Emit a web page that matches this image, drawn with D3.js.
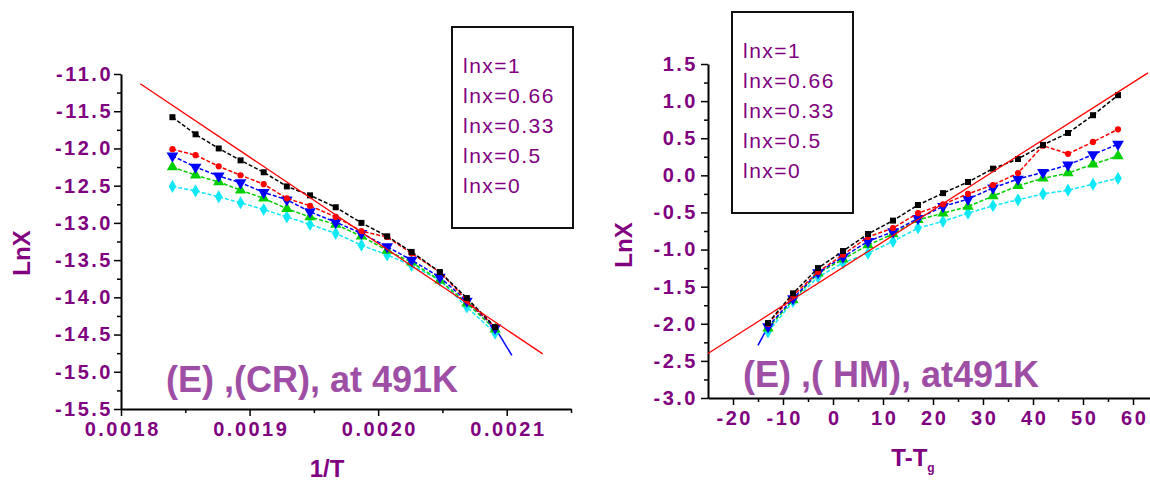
<!DOCTYPE html>
<html>
<head>
<meta charset="utf-8">
<script src="https://cdn.jsdelivr.net/npm/d3@7"></script>
<style>
  body { margin: 0; background: #fff; }
  svg { display: block; font-family: "Liberation Sans", Arial, sans-serif; }
  .tick-label { font-weight: bold; font-size: 20px; fill: #800080; letter-spacing: 2.5px; }
  .axis-title { font-weight: bold; font-size: 24px; fill: #800080; }
  .legend-text { font-size: 21px; fill: #800080; letter-spacing: 1.5px; }
  .note { font-weight: bold; font-size: 36px; fill: #9e4fa5; }
</style>
</head>
<body>
<script>
// ---- left panel: LnX vs 1/T ----
var leftX = [0.00184, 0.001858, 0.001876, 0.001893, 0.001911, 0.001929, 0.001947,
             0.001967, 0.001987, 0.002007, 0.002026, 0.002048, 0.002069, 0.002091];
var leftBlack = [-11.58, -11.81, -12.00, -12.16, -12.32, -12.51, -12.63, -12.79, -13.00, -13.18, -13.39, -13.66, -14.01, -14.40];
var leftRed   = [-12.01, -12.09, -12.24, -12.36, -12.48, -12.67, -12.77, -12.92, -13.11, -13.19, -13.41, -13.66, -14.04, -14.40];
var leftBlue  = [-12.10, -12.25, -12.37, -12.46, -12.59, -12.69, -12.85, -12.99, -13.14, -13.32, -13.50, -13.73, -14.05, -14.41];
var leftGreen = [-12.25, -12.36, -12.45, -12.56, -12.67, -12.81, -12.92, -13.02, -13.18, -13.37, -13.53, -13.77, -14.08, -14.43];
var leftCyan  = [-12.51, -12.57, -12.65, -12.73, -12.82, -12.92, -13.02, -13.14, -13.30, -13.43, -13.57, -13.77, -14.13, -14.48];
var leftFitX = [0.001815, 0.002128];
var leftFitY = [-11.13, -14.76];
var leftTailX = [0.002091, 0.002104];
var leftTailY = [-14.41, -14.78];
var leftXTicks = [0.0018, 0.0019, 0.0020, 0.0021];
var leftYTicks = [-11.0, -11.5, -12.0, -12.5, -13.0, -13.5, -14.0, -14.5, -15.0, -15.5];

// ---- right panel: LnX vs T-Tg ----
var rightX = [-13, -8, -3, 2, 7, 12, 17, 22, 27, 32, 37, 42, 47, 52, 57];
var rightBlack = [-1.99, -1.59, -1.25, -1.02, -0.79, -0.61, -0.40, -0.24, -0.09, 0.09, 0.22, 0.41, 0.57, 0.81, 1.08];
var rightRed   = [-2.00, -1.62, -1.30, -1.07, -0.83, -0.71, -0.51, -0.39, -0.25, -0.13, 0.03, 0.40, 0.29, 0.45, 0.62];
var rightBlue  = [-2.04, -1.66, -1.31, -1.10, -0.89, -0.76, -0.58, -0.42, -0.32, -0.17, -0.05, 0.04, 0.14, 0.28, 0.42];
var rightGreen = [-2.06, -1.68, -1.32, -1.13, -0.94, -0.79, -0.60, -0.51, -0.42, -0.28, -0.14, -0.04, 0.03, 0.15, 0.26];
var rightCyan  = [-2.11, -1.70, -1.37, -1.18, -1.05, -0.89, -0.71, -0.62, -0.51, -0.41, -0.33, -0.25, -0.20, -0.12, -0.04];
var rightFitX = [-25, 63];
var rightFitY = [-2.40, 1.38];
var rightTailX = [-13, -15];
var rightTailY = [-2.04, -2.29];
var rightXTicks = [-20, -10, 0, 10, 20, 30, 40, 50, 60];
var rightYTicks = [1.5, 1.0, 0.5, 0.0, -0.5, -1.0, -1.5, -2.0, -2.5, -3.0];

var legendLabels = ["lnx=1", "lnx=0.66", "lnx=0.33", "lnx=0.5", "lnx=0"];
var seriesColors = ["#000000", "#ff0000", "#0000ff", "#00d000", "#10e8f8"];
var seriesSymbols = [d3.symbolSquare, d3.symbolCircle, d3.symbolTriangle, d3.symbolTriangle, d3.symbolDiamond];
var seriesSizes = [36, 30, 60, 55, 50];
var seriesRotate = [0, 0, 180, 0, 0];

var svg = d3.select("body").append("svg")
    .attr("width", 1150)
    .attr("height", 484);

svg.append("rect").attr("width", 1150).attr("height", 484).attr("fill", "#fff");

function drawPanel(p) {
    var x = d3.scaleLinear().domain(p.xDomain).range(p.xRange);
    var y = d3.scaleLinear().domain(p.yDomain).range(p.yRange);
    var g = svg.append("g");
    var x0 = p.xRange[0], y0 = p.yRange[0];

    // minor ticks
    g.append("g")
        .attr("transform", "translate(0," + y0 + ")")
        .call(d3.axisBottom(x).tickValues(p.xMinor).tickSize(4).tickFormat(""))
        .call(s => s.select(".domain").remove());
    g.append("g")
        .attr("transform", "translate(" + x0 + ",0)")
        .call(d3.axisLeft(y).tickValues(p.yMinor).tickSize(4).tickFormat(""))
        .call(s => s.select(".domain").remove());

    // major x axis
    var xg = g.append("g")
        .attr("transform", "translate(0," + y0 + ")")
        .call(d3.axisBottom(x).tickValues(p.xTicks).tickSize(7).tickSizeOuter(0).tickFormat(p.xFmt));
    xg.selectAll("text").attr("class", "tick-label").attr("y", 13).attr("dy", "0.71em").attr("dx", 1.2).attr("fill", null);

    // major y axis
    var yg = g.append("g")
        .attr("transform", "translate(" + x0 + ",0)")
        .call(d3.axisLeft(y).tickValues(p.yTicks).tickSize(7).tickSizeOuter(0).tickFormat(d => d.toFixed(1)));
    yg.selectAll("text").attr("class", "tick-label").attr("x", p.yLabelX).attr("fill", null);

    g.selectAll(".domain").attr("stroke-width", 2);
    g.selectAll(".tick line").attr("stroke-width", 1.5);

    // axis titles
    g.append("text")
        .attr("class", "axis-title")
        .attr("transform", "translate(" + p.yTitle[0] + "," + p.yTitle[1] + ") rotate(-90)")
        .attr("text-anchor", "middle")
        .attr("dy", "0.35em")
        .text("LnX");
    var xt = g.append("text")
        .attr("class", "axis-title")
        .attr("x", p.xTitle[0]).attr("y", p.xTitle[1])
        .attr("text-anchor", "middle");
    xt.append("tspan").text(p.xTitleText);
    if (p.xTitleSub) xt.append("tspan").attr("font-size", 12).attr("dy", 6).text(p.xTitleSub);

    var line = d3.line().x(d => x(d[0])).y(d => y(d[1]));

    // tail segment below the last marked point
    g.append("path")
        .datum(d3.zip(p.tailX, p.tailY))
        .attr("fill", "none").attr("stroke", "#0000ff").attr("stroke-width", 1.5)
        .attr("d", line);

    // series, drawn back to front
    [4, 3, 2, 1, 0].forEach(function (i) {
        var pts = d3.zip(p.xs, p.series[i]);
        g.append("path")
            .datum(pts)
            .attr("fill", "none")
            .attr("stroke", seriesColors[i])
            .attr("stroke-width", 1.5)
            .attr("stroke-dasharray", "4,2")
            .attr("d", line);
        g.selectAll(null)
            .data(pts)
            .join("path")
            .attr("transform", d => "translate(" + x(d[0]) + "," + y(d[1]) + ") rotate(" + seriesRotate[i] + ")")
            .attr("d", d3.symbol().type(seriesSymbols[i]).size(seriesSizes[i]))
            .attr("fill", seriesColors[i]);
    });

    // linear fit
    g.append("path")
        .datum(d3.zip(p.fitX, p.fitY))
        .attr("fill", "none")
        .attr("stroke", "#ff0000")
        .attr("stroke-width", 1.3)
        .attr("d", line);

    // legend box
    g.append("rect")
        .attr("x", p.legend[0]).attr("y", p.legend[1])
        .attr("width", 121).attr("height", 201)
        .attr("fill", "none").attr("stroke", "#111").attr("stroke-width", 2);
    legendLabels.forEach(function (t, i) {
        g.append("text")
            .attr("class", "legend-text")
            .attr("x", p.legend[0] + 11)
            .attr("y", p.legend[1] + 46 + i * 30)
            .text(t);
    });

    // note
    g.append("text")
        .attr("class", "note")
        .attr("x", p.note[0]).attr("y", p.note[1])
        .text(p.noteText);
}

drawPanel({
    xDomain: [0.0018, 0.00215], xRange: [121, 571],
    yDomain: [-15.5, -11.0], yRange: [409, 74],
    xTicks: leftXTicks, xMinor: [0.00185, 0.00195, 0.00205, 0.00215],
    yTicks: leftYTicks, yMinor: d3.range(-15.25, -11.0, 0.5),
    xFmt: d => d.toFixed(4),
    yLabelX: -8,
    xs: leftX, series: [leftBlack, leftRed, leftBlue, leftGreen, leftCyan],
    fitX: leftFitX, fitY: leftFitY, tailX: leftTailX, tailY: leftTailY,
    yTitle: [22, 253], xTitle: [327, 477], xTitleText: "1/T",
    legend: [452, 27],
    note: [166, 392], noteText: "(E) ,(CR), at 491K"
});

drawPanel({
    xDomain: [-25, 64], xRange: [708, 1153],
    yDomain: [-3.0, 1.5], yRange: [398, 64],
    xTicks: rightXTicks, xMinor: d3.range(-15, 64, 10),
    yTicks: rightYTicks, yMinor: d3.range(-2.75, 1.5, 0.5),
    xFmt: d => String(d),
    yLabelX: -10,
    xs: rightX, series: [rightBlack, rightRed, rightBlue, rightGreen, rightCyan],
    fitX: rightFitX, fitY: rightFitY, tailX: rightTailX, tailY: rightTailY,
    yTitle: [624, 245], xTitle: [913, 466], xTitleText: "T-T", xTitleSub: "g",
    legend: [732, 12],
    note: [743, 387], noteText: "(E) ,( HM), at491K"
});
</script>
</body>
</html>
